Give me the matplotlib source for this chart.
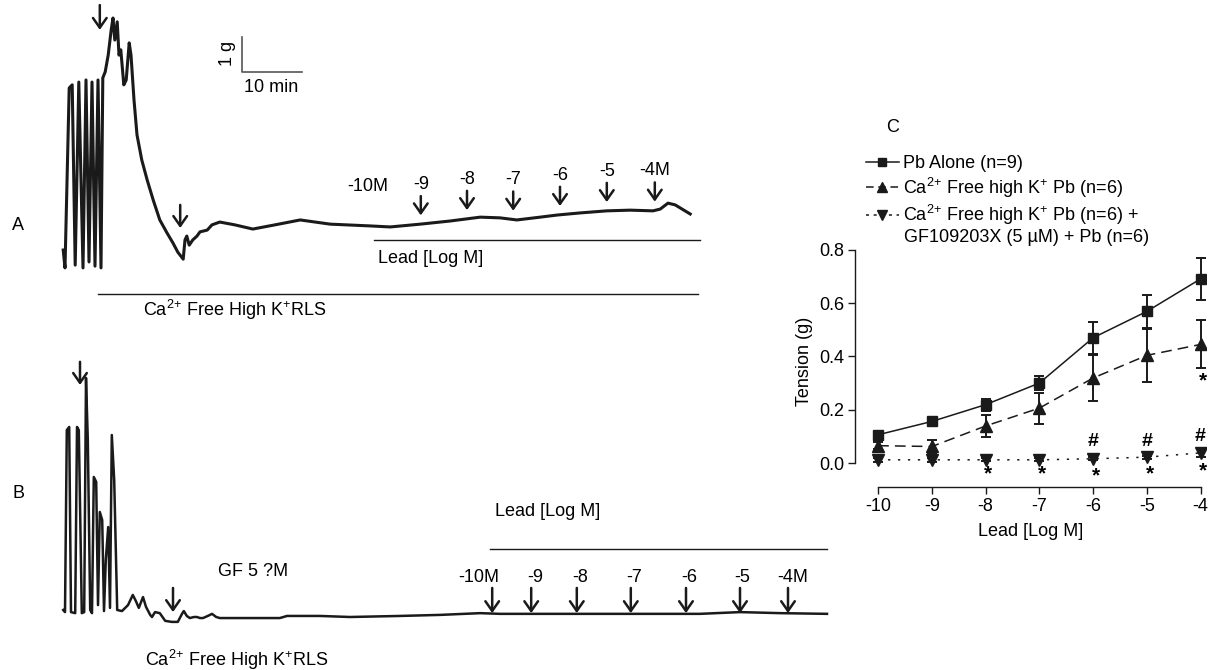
import numpy as np
import matplotlib
matplotlib.use('Agg')
import matplotlib.pyplot as plt
from matplotlib.lines import Line2D

plt.rcParams['font.family'] = ['Liberation Sans', 'DejaVu Sans']
plt.rcParams['mathtext.fontset'] = 'custom'
plt.rcParams['mathtext.rm'] = 'Liberation Sans'
plt.rcParams['mathtext.it'] = 'Liberation Sans:italic'
plt.rcParams['mathtext.bf'] = 'Liberation Sans:bold'
plt.rcParams['font.size'] = 13
plt.rcParams['axes.unicode_minus'] = False

INK = '#1a1a1a'

# --- trace A (Ca2+ free high K+, then lead): time in min, tension in g
trace_a_t = [0.2, 0.5, 1.2, 1.7, 2.2, 2.8, 3.5, 4.0, 4.5, 5.0, 5.5, 6.0, 6.5,
             6.8, 7.2, 7.7, 8.2, 8.5, 8.8, 9.2, 9.5, 9.8, 10.3, 10.7, 11.2,
             11.5, 12.0, 12.5, 13.3, 14.2, 15.2, 16.3, 17.5, 18.5, 19.3, 20.2,
             20.5, 20.8, 21.2, 21.8, 22.5, 23.0, 24.2, 25.0, 26.3, 28.8, 31.8,
             35.5, 39.7, 44.7, 51.3, 54.7, 59.7, 64.7, 69.7, 73.0, 75.8, 79.7,
             82.5, 86.3, 90.8, 94.7, 98.5, 99.7, 101.0, 102.2, 104.7]
trace_a_g = [0.57, 0.06, 5.20, 5.29, 0.14, 5.37, 0.06, 5.43, 0.23, 5.37, 0.11,
             5.43, 0.06, 5.49, 5.66, 6.14, 6.86, 7.20, 6.57, 7.09, 6.14, 6.29,
             5.29, 5.43, 6.49, 6.14, 4.86, 3.86, 3.14, 2.57, 2.00, 1.43, 1.06,
             0.77, 0.51, 0.31, 0.86, 0.97, 0.71, 0.86, 0.97, 1.09, 1.14, 1.29,
             1.37, 1.29, 1.17, 1.29, 1.43, 1.31, 1.26, 1.23, 1.31, 1.40, 1.51,
             1.49, 1.43, 1.51, 1.57, 1.63, 1.69, 1.71, 1.69, 1.74, 1.91, 1.86,
             1.60]

# --- trace B (with GF109203X 5 uM)
trace_b_t = [0.2, 0.5, 0.8, 1.2, 1.5, 2.2, 2.5, 2.8, 3.3, 3.7, 4.0, 4.3, 4.7,
             5.0, 5.3, 5.7, 6.0, 6.3, 6.7, 7.0, 7.3, 7.7, 8.0, 8.3, 8.7, 9.2,
             10.0, 11.0, 11.8, 12.3, 12.8, 13.5, 14.0, 14.7, 15.0, 15.5, 16.3,
             17.2, 18.3, 19.3, 20.0, 20.3, 20.8, 21.3, 22.0, 22.5, 23.0, 23.5,
             24.3, 25.0, 25.7, 26.3, 31.3, 36.3, 37.5, 43.0, 48.0, 56.3, 63.0,
             69.7, 73.0, 79.7, 89.7, 96.3, 106.3, 113.0, 119.7, 127.5]
trace_b_g = [0.20, 0.14, 5.34, 5.43, 0.14, 0.11, 5.43, 5.34, 0.11, 0.14, 6.83,
             5.06, 0.20, 0.11, 4.00, 3.86, 0.34, 3.00, 2.77, 0.17, 1.63, 2.57,
             0.26, 5.20, 3.91, 0.20, 0.17, 0.34, 0.63, 0.46, 0.26, 0.57, 0.29,
             0.06, 0.00, 0.14, 0.11, -0.11, -0.14, -0.14, 0.09, 0.17, 0.03,
             -0.03, 0.00, 0.00, -0.03, -0.03, 0.03, 0.09, 0.00, -0.03, -0.03,
             -0.03, 0.03, 0.03, 0.00, 0.03, 0.06, 0.11, 0.09, 0.09, 0.09, 0.09,
             0.09, 0.14, 0.11, 0.09]

doses = ['-10M', '-9', '-8', '-7', '-6', '-5', '-4M']
dose_a_t = [51.0, 59.8, 67.5, 75.2, 83.0, 90.8, 98.8]
dose_b_t = [71.7, 78.2, 85.8, 94.8, 104.0, 113.0, 121.0]

# --- panel C: concentration-response
log_pb = [-10, -9, -8, -7, -6, -5, -4]
pb_alone = [0.106, 0.156, 0.219, 0.300, 0.470, 0.569, 0.691]
pb_alone_sem = [0.010, 0.008, 0.023, 0.026, 0.060, 0.063, 0.078]
ca_free = [0.065, 0.062, 0.139, 0.206, 0.319, 0.404, 0.445]
ca_free_sem = [0.012, 0.025, 0.040, 0.058, 0.085, 0.100, 0.090]
ca_free_gf = [0.012, 0.012, 0.012, 0.012, 0.016, 0.022, 0.038]
ca_free_gf_sem = [0.008, 0.008, 0.005, 0.005, 0.005, 0.006, 0.015]

star_x = [-8, -7, -6, -5, -4]
star_y = [-0.04, -0.04, -0.05, -0.04, -0.03]
hash_x = [-6, -5, -4]
hash_y = [0.079, 0.079, 0.100]

CA = 'Ca$^{2}$$^{+}$'
KP = 'K$^{+}$'

W, H = 1212, 670
PX_MIN = 6.0   # pixels per minute (10 min scale bar)
PX_G = 35.0    # pixels per gram (1 g scale bar)

fig = plt.figure(figsize=(W / 100, H / 100), dpi=100)


def trace_axes(x0, y0):
    ax = fig.add_axes([0, 0, 1, 1])
    ax.set_xlim(-x0 / PX_MIN, (W - x0) / PX_MIN)
    ax.set_ylim((y0 - H) / PX_G, y0 / PX_G)
    ax.axis('off')
    return ax


def arrow(ax, t, tip, length, lw=1.8):
    ax.annotate('', xy=(t, tip), xytext=(t, tip + length),
                arrowprops=dict(arrowstyle='->,head_length=0.5,head_width=0.35',
                                lw=lw, color=INK, shrinkA=0, shrinkB=0,
                                mutation_scale=14))


# ---------------- A
ax_a = trace_axes(62, 270)
ax_a.plot(trace_a_t, trace_a_g, color=INK, lw=2.2, solid_joinstyle='round')
arrow(ax_a, 6.3, 6.86, 0.71)
arrow(ax_a, 19.7, 1.2, 0.66)
for i, (lab, t) in enumerate(zip(doses, dose_a_t)):
    tip = np.interp(t, trace_a_t, trace_a_g) + 0.25
    if i > 0:
        arrow(ax_a, t, tip, 0.55)
    ax_a.text(t, tip + 0.88, lab, ha='center', va='center')
ax_a.plot([52, 106.3], [0.86, 0.86], color=INK, lw=1)
ax_a.text(52.7, 0.34, 'Lead [Log M]', ha='left', va='center')
ax_a.plot([6, 106], [-0.69, -0.69], color=INK, lw=1)
ax_a.text(13.5, -1.14, CA + ' Free High ' + KP + 'RLS', ha='left', va='center')
# scale bar
ax_a.plot([30, 30, 40], [6.66, 5.66, 5.66], color='#555555', lw=1.2)
ax_a.text(27.6, 6.2, '1 g', rotation=90, ha='center', va='center')
ax_a.text(34.8, 5.2, '10 min', ha='center', va='center')

# ---------------- B
ax_b = trace_axes(62, 617)
ax_b.plot(trace_b_t, trace_b_g, color=INK, lw=1.8, solid_joinstyle='round')
arrow(ax_b, 3.0, 6.63, 0.66)
arrow(ax_b, 18.5, 0.14, 0.69)
dx_b = [-2.3, 0.6, 0.6, 0.6, 0.6, 0.4, 0.8]
for lab, t, dx in zip(doses, dose_b_t, dx_b):
    arrow(ax_b, t, 0.11, 0.72)
    ax_b.text(t + dx, 1.14, lab, ha='center', va='center')
ax_b.plot([71.3, 127.5], [1.94, 1.94], color=INK, lw=1)
ax_b.text(72.2, 3.0, 'Lead [Log M]', ha='left', va='center')
ax_b.text(26.0, 1.29, 'GF 5 ?M', ha='left', va='center')
ax_b.text(13.8, -1.23, CA + ' Free High ' + KP + 'RLS', ha='left', va='center')

fig.text(18 / W, 1 - 226 / H, 'A', ha='center', va='center')
fig.text(18 / W, 1 - 493 / H, 'B', ha='center', va='center')
fig.text(893 / W, 1 - 127 / H, 'C', ha='center', va='center')

# ---------------- C
axc = fig.add_axes([855 / W, 1 - 487 / H, (1206 - 855) / W, (487 - 236.5) / H])
axc.patch.set_alpha(0)
axc.set_xlim(-10.43, -3.9)
axc.set_ylim(-0.09, 0.85)

axc.errorbar(log_pb, pb_alone, yerr=pb_alone_sem, fmt='-s', color=INK,
             ms=7, lw=1.1, elinewidth=1.4, capsize=3.5, capthick=1.4)
axc.errorbar(log_pb, ca_free, yerr=ca_free_sem, fmt='^', ls=(0, (7, 4)),
             color=INK, ms=8, lw=1.1, elinewidth=1.4, capsize=3.5, capthick=1.4)
axc.errorbar(log_pb, ca_free_gf, yerr=ca_free_gf_sem, fmt='v', ls=(0, (1.5, 5)),
             color=INK, ms=8, lw=1.1, elinewidth=1.4, capsize=3.5, capthick=1.4)

for x, y in zip(star_x, star_y):
    axc.text(x + 0.05, y, '*', ha='center', va='center', fontsize=15, fontweight='bold')
for x, y in zip(hash_x, hash_y):
    axc.text(x, y, '#', ha='center', va='center', fontsize=14, fontweight='bold')
axc.text(-3.95, 0.31, '*', ha='center', va='center', fontsize=15, fontweight='bold')

for s in ['top', 'right']:
    axc.spines[s].set_visible(False)
axc.spines['left'].set_bounds(0, 0.8)
axc.spines['bottom'].set_bounds(-10, -4)
for s in ['left', 'bottom']:
    axc.spines[s].set_color(INK)
    axc.spines[s].set_linewidth(1.0)
axc.set_yticks([0, 0.2, 0.4, 0.6, 0.8])
axc.set_yticklabels(['0.0', '0.2', '0.4', '0.6', '0.8'])
axc.set_xticks(log_pb)
axc.set_xticklabels([str(v) for v in log_pb])
axc.tick_params(direction='out', length=5, width=1.0, color=INK, labelsize=13, pad=3)
axc.set_xlabel('Lead [Log M]', fontsize=13, labelpad=6)
axc.set_ylabel('Tension (g)', fontsize=13, labelpad=4)

handles = [
    Line2D([], [], color=INK, marker='s', ms=6, lw=1.1),
    Line2D([], [], color=INK, marker='^', ms=7, lw=1.1, ls=(0, (5, 3))),
    Line2D([], [], color=INK, marker='v', ms=7, lw=1.1, ls=(0, (2, 3))),
]
labels = ['Pb Alone (n=9)',
          CA + ' Free high ' + KP + ' Pb (n=6)',
          CA + ' Free high ' + KP + ' Pb (n=6) +']
axc.legend(handles, labels, loc='upper left', bbox_to_anchor=(866 / W, 1 - 155 / H),
           bbox_transform=fig.transFigure, frameon=False, borderpad=0,
           borderaxespad=0, handlelength=1.8, handletextpad=0.25,
           labelspacing=0.2, fontsize=13)
fig.text(904 / W, 1 - 238 / H, 'GF109203X (5 µM) + Pb (n=6)', ha='left', va='center')

fig.savefig('out.png', dpi=100)
